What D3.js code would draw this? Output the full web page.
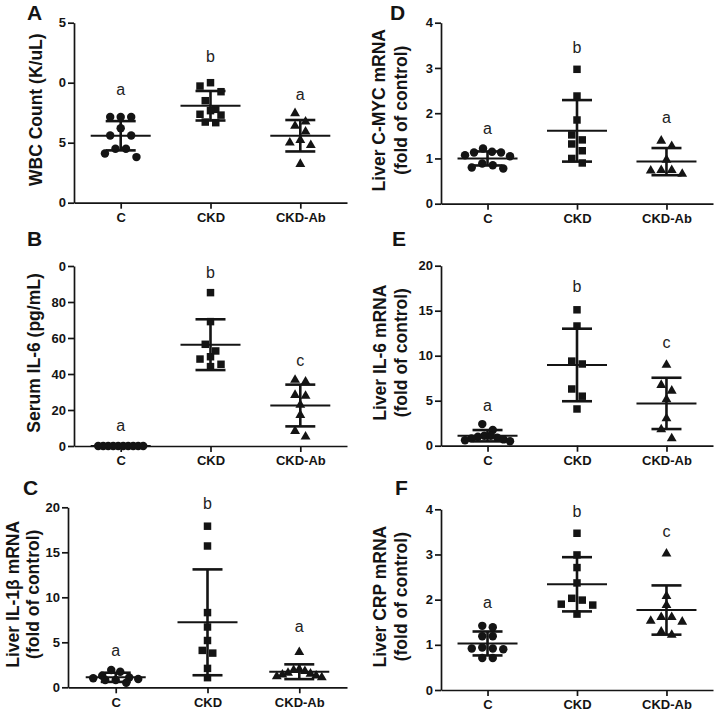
<!DOCTYPE html>
<html><head><meta charset="utf-8">
<script src="https://cdn.jsdelivr.net/npm/d3@7"></script>
<style>body{margin:0;background:#fff} svg{display:block}</style>
</head><body><svg id="chart" width="715" height="711"></svg>
<script>
// ---------------- DATA ----------------
const groups = ["C", "CKD", "CKD-Ab"];

// A: WBC Count
const A_C     = [7.15, 7.15, 7.15, 6.2, 5.6, 5.6, 4.5, 4.5, 4.1, 3.8];
const A_CKD   = [10.0, 9.72, 9.25, 8.5, 7.78, 7.67, 7.37, 7.3, 6.72, 6.67];
const A_CKDAb = [7.45, 6.75, 6.39, 5.92, 5.22, 5.0, 4.8, 3.22];
const A_mean  = [5.58, 8.08, 5.58];
const A_sd    = [1.22, 1.23, 1.31];
const A_sig   = ["a", "b", "a"];
const A_sigAt = [8.97, 11.7, 8.6];
const A_ticks = [0, 5, 10, 15];
const A_tickLabels = ["0", "5", "0", "5"];

// B: Serum IL-6
const B_C     = [0, 0, 0, 0, 0, 0, 0, 0, 0, 0];
const B_CKD   = [85.2, 69.1, 56.5, 52.8, 49.6, 48.3, 45.4, 44.1];
const B_CKDAb = [36.7, 35.7, 28.3, 27.8, 22.8, 17.2, 8.3, 5.2];
const B_mean  = [0, 56.3, 22.5];
const B_sd    = [0, 14.1, 11.6];
const B_sig   = ["a", "b", "c"];
const B_sigAt = [8.3, 93.2, 44.4];
const B_ticks = [0, 20, 40, 60, 80, 100];
const B_tickLabels = ["0", "20", "40", "60", "80", "0"];

// C: Liver IL-1beta mRNA
const C_C     = [1.92, 1.73, 1.29, 1.1, 1.0, 0.92, 0.81, 0.81, 0.51];
const C_CKD   = [17.9, 15.7, 8.3, 6.7, 5.2, 4.1, 3.8, 2.1, 1.07];
const C_CKDAb = [3.9, 2.0, 1.9, 1.8, 1.6, 1.5, 1.4, 1.3, 1.2, 1.1];
const C_mean  = [1.11, 7.22, 1.73];
const C_sd    = [0.51, 5.88, 0.82];
const C_sig   = ["a", "b", "a"];
const C_sigAt = [3.48, 19.8, 6.2];
const C_ticks = [0, 5, 10, 15, 20];
const C_tickLabels = ["0", "5", "10", "15", "20"];

// D: Liver C-MYC mRNA
const D_C     = [1.22, 1.15, 1.13, 1.13, 1.07, 1.05, 0.89, 0.85, 0.80, 0.78];
const D_CKD   = [2.97, 2.38, 1.85, 1.52, 1.41, 1.32, 1.17, 1.0, 0.9];
const D_CKDAb = [1.39, 1.27, 0.97, 0.74, 0.74, 0.73, 0.66];
const D_mean  = [1.0, 1.61, 0.93];
const D_sd    = [0.155, 0.68, 0.30];
const D_sig   = ["a", "b", "a"];
const D_sigAt = [1.54, 3.33, 1.79];
const D_ticks = [0, 1, 2, 3, 4];
const D_tickLabels = ["0", "1", "2", "3", "4"];

// E: Liver IL-6 mRNA
const E_C     = [2.4, 1.75, 1.1, 1.1, 1.0, 0.9, 0.8, 0.7, 0.6, 0.5];
const E_CKD   = [15.1, 13.3, 9.4, 9.08, 6.3, 5.5, 4.08];
const E_CKDAb = [8.97, 6.74, 6.1, 5.15, 3.04, 1.82, 0.82];
const E_mean  = [1.11, 8.97, 4.7];
const E_sd    = [0.63, 4.03, 2.85];
const E_sig   = ["a", "b", "c"];
const E_sigAt = [3.9, 17.1, 10.9];
const E_ticks = [0, 5, 10, 15, 20];
const E_tickLabels = ["0", "5", "10", "15", "20"];

// F: Liver CRP mRNA
const F_C     = [1.42, 1.39, 1.19, 1.19, 0.94, 0.92, 0.92, 0.9, 0.71, 0.71];
const F_CKD   = [3.47, 2.99, 2.71, 2.37, 2.03, 1.99, 1.9, 1.88, 1.68];
const F_CKDAb = [3.02, 2.08, 1.88, 1.61, 1.61, 1.53, 1.51, 1.29, 1.22];
const F_mean  = [1.03, 2.34, 1.77];
const F_sd    = [0.265, 0.6, 0.545];
const F_sig   = ["a", "b", "c"];
const F_sigAt = [1.81, 3.83, 3.39];
const F_ticks = [0, 1, 2, 3, 4];
const F_tickLabels = ["0", "1", "2", "3", "4"];

const panelLetters = ["A", "B", "C", "D", "E", "F"];
const yTitles = [
  ["WBC Count (K/uL)"],
  ["Serum IL-6 (pg/mL)"],
  ["Liver IL-1\u03B2 mRNA", "(fold of control)"],
  ["Liver C-MYC mRNA", "(fold of control)"],
  ["Liver IL-6 mRNA", "(fold of control)"],
  ["Liver CRP mRNA", "(fold of control)"]
];

// ---------------- LAYOUT ----------------
const layout = [
  {x0: 74,  x1: 347, yTop: 22.7,  yBot: 202.7, titleX: [35.5],      letter: [27, 20]},
  {x0: 74,  x1: 347, yTop: 266,   yBot: 446,   titleX: [33.5],      letter: [27, 246]},
  {x0: 68,  x1: 347, yTop: 507.3, yBot: 687.3, titleX: [12.5, 33],  letter: [23, 495]},
  {x0: 441, x1: 713, yTop: 22.7,  yBot: 203.7, titleX: [379, 401],  letter: [390, 20]},
  {x0: 441, x1: 713, yTop: 265.7, yBot: 445.7, titleX: [380, 401],  letter: [392, 246]},
  {x0: 441, x1: 713, yTop: 509.3, yBot: 690,   titleX: [380, 401],  letter: [395, 495]}
];

const panelData = [
  {series: [A_C, A_CKD, A_CKDAb], mean: A_mean, sd: A_sd, sig: A_sig, sigAt: A_sigAt, ticks: A_ticks, tickLabels: A_tickLabels},
  {series: [B_C, B_CKD, B_CKDAb], mean: B_mean, sd: B_sd, sig: B_sig, sigAt: B_sigAt, ticks: B_ticks, tickLabels: B_tickLabels},
  {series: [C_C, C_CKD, C_CKDAb], mean: C_mean, sd: C_sd, sig: C_sig, sigAt: C_sigAt, ticks: C_ticks, tickLabels: C_tickLabels},
  {series: [D_C, D_CKD, D_CKDAb], mean: D_mean, sd: D_sd, sig: D_sig, sigAt: D_sigAt, ticks: D_ticks, tickLabels: D_tickLabels},
  {series: [E_C, E_CKD, E_CKDAb], mean: E_mean, sd: E_sd, sig: E_sig, sigAt: E_sigAt, ticks: E_ticks, tickLabels: E_tickLabels},
  {series: [F_C, F_CKD, F_CKDAb], mean: F_mean, sd: F_sd, sig: F_sig, sigAt: F_sigAt, ticks: F_ticks, tickLabels: F_tickLabels}
];

const FONT = "'Liberation Sans', Arial, Helvetica, sans-serif";
const INK = "#141414";
const symbols = [d3.symbolCircle, d3.symbolSquare, d3.symbolTriangle];
const symSizes = [56, 56, 42];

const svg = d3.select("#chart");

// row-based scatter spreading (GraphPad style)
function spread(values, y, cx) {
  const BIN = 9, SP = 10.5, MAXW = 45;
  const pts = values.map(v => ({v, py: y(v)})).sort((a, b) => a.py - b.py);
  const rows = [];
  let cur = null;
  for (const p of pts) {
    if (!cur || p.py - cur.start > BIN) { cur = {start: p.py, items: []}; rows.push(cur); }
    cur.items.push(p);
  }
  for (const r of rows) {
    const n = r.items.length;
    const sp = n > 1 ? Math.min(SP, MAXW / (n - 1)) : 0;
    const slots = d3.range(n).map(i => (i - (n - 1) / 2) * sp)
      .sort((a, b) => (Math.abs(a) - Math.abs(b)) || (a - b));
    r.items.forEach((p, i) => { p.px = cx + slots[i]; });
  }
  return pts;
}

panelData.forEach((pd, k) => {
  const L = layout[k];
  const g = svg.append("g");
  const x = d3.scalePoint().domain(groups).range([L.x0, L.x1]).padding(0.52);
  const y = d3.scaleLinear().domain([0, d3.max(pd.ticks)]).range([L.yBot, L.yTop]);

  // y axis
  const ya = g.append("g").attr("transform", `translate(${L.x0},0)`)
    .call(d3.axisLeft(y).tickValues(pd.ticks).tickFormat((d, i) => pd.tickLabels[i])
      .tickSize(6).tickSizeOuter(0).tickPadding(2));
  // x axis
  const xa = g.append("g").attr("transform", `translate(0,${L.yBot})`)
    .call(d3.axisBottom(x).tickSize(6).tickSizeOuter(0).tickPadding(4));
  [ya, xa].forEach(a => {
    a.select(".domain").attr("stroke", INK).attr("stroke-width", 1.7);
    a.selectAll(".tick line").attr("stroke", INK).attr("stroke-width", 1.7);
    a.selectAll(".tick text").attr("fill", INK).style("font-family", FONT)
      .style("font-weight", "bold");
  });
  ya.selectAll(".tick text").style("font-size", "13px");
  xa.selectAll(".tick text").style("font-size", "13px");

  // points
  pd.series.forEach((vals, gi) => {
    const pts = spread(vals, y, x(groups[gi]));
    g.append("g").selectAll("path").data(pts).join("path")
      .attr("d", d3.symbol().type(symbols[gi]).size(symSizes[gi]))
      .attr("transform", d => `translate(${d.px},${d.py})`)
      .attr("fill", INK);
  });

  // mean +/- SD
  groups.forEach((grp, gi) => {
    const cx = x(grp), m = pd.mean[gi], s = pd.sd[gi];
    const eb = g.append("g").attr("stroke", INK).attr("fill", "none");
    eb.append("line").attr("x1", cx).attr("x2", cx).attr("y1", y(m + s)).attr("y2", y(m - s)).attr("stroke-width", 2.6);
    [m + s, m - s].forEach(v => eb.append("line").attr("x1", cx - 15).attr("x2", cx + 15)
      .attr("y1", y(v)).attr("y2", y(v)).attr("stroke-width", 2.6));
    eb.append("line").attr("x1", cx - 30).attr("x2", cx + 30).attr("y1", y(m)).attr("y2", y(m)).attr("stroke-width", 2);
    // significance letter
    g.append("text").attr("x", cx).attr("y", y(pd.sigAt[gi]))
      .attr("text-anchor", "middle").attr("fill", "#222")
      .style("font-family", FONT).style("font-size", "16px")
      .text(pd.sig[gi]);
  });

  // y title
  const cy = (L.yTop + L.yBot) / 2 - 3;
  yTitles[k].forEach((t, li) => {
    g.append("text").attr("transform", `translate(${L.titleX[li]},${cy}) rotate(-90)`)
      .attr("text-anchor", "middle").attr("dominant-baseline", "central")
      .attr("fill", INK).style("font-family", FONT).style("font-weight", "bold")
      .style("font-size", "17.5px").text(t);
  });

  // panel letter
  g.append("text").attr("x", L.letter[0]).attr("y", L.letter[1])
    .attr("fill", INK).style("font-family", FONT).style("font-weight", "bold")
    .style("font-size", "21px").text(panelLetters[k]);
});
</script>
</body></html>
